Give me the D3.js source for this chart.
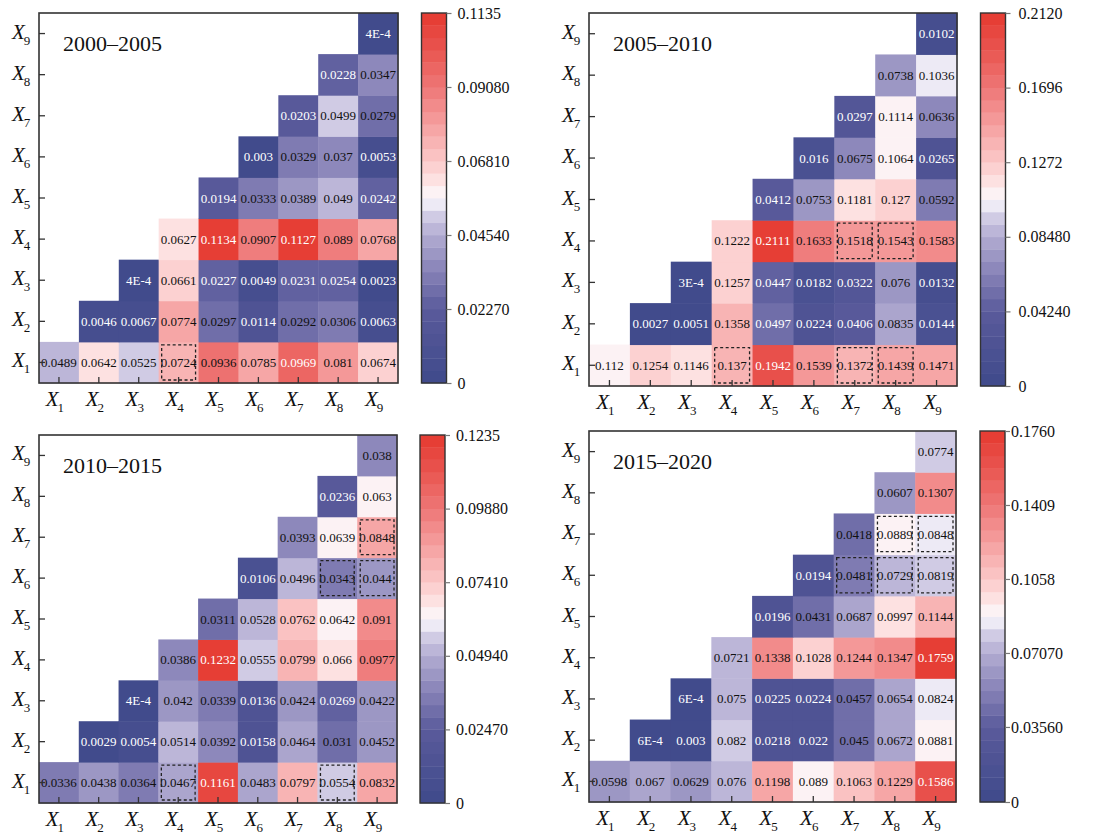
<!DOCTYPE html>
<html lang="en">
<head>
<meta charset="UTF-8">
<script src="https://d3js.org/d3.v7.min.js"></script>
<title>heatmaps</title>
<style>
  body { margin: 0; background: #fff; }
  svg { display: block; font-family: "Liberation Serif", "Times New Roman", serif; }
</style>
</head>
<body>
<svg id="chart" width="1104" height="835"></svg>
<script>
// upper-triangle values, row Xi starts at column Xi
const v2000 = [
  [0.0489, 0.0642, 0.0525, 0.0724, 0.0936, 0.0785, 0.0969, 0.081, 0.0674],
  [0.0046, 0.0067, 0.0774, 0.0297, 0.0114, 0.0292, 0.0306, 0.0063],
  [0.0004, 0.0661, 0.0227, 0.0049, 0.0231, 0.0254, 0.0023],
  [0.0627, 0.1134, 0.0907, 0.1127, 0.089, 0.0768],
  [0.0194, 0.0333, 0.0389, 0.049, 0.0242],
  [0.003, 0.0329, 0.037, 0.0053],
  [0.0203, 0.0499, 0.0279],
  [0.0228, 0.0347],
  [0.0004]
];
const v2005 = [
  [0.112, 0.1254, 0.1146, 0.137, 0.1942, 0.1539, 0.1372, 0.1439, 0.1471],
  [0.0027, 0.0051, 0.1358, 0.0497, 0.0224, 0.0406, 0.0835, 0.0144],
  [0.0003, 0.1257, 0.0447, 0.0182, 0.0322, 0.076, 0.0132],
  [0.1222, 0.2111, 0.1633, 0.1518, 0.1543, 0.1583],
  [0.0412, 0.0753, 0.1181, 0.127, 0.0592],
  [0.016, 0.0675, 0.1064, 0.0265],
  [0.0297, 0.1114, 0.0636],
  [0.0738, 0.1036],
  [0.0102]
];
const v2010 = [
  [0.0336, 0.0438, 0.0364, 0.0467, 0.1161, 0.0483, 0.0797, 0.0554, 0.0832],
  [0.0029, 0.0054, 0.0514, 0.0392, 0.0158, 0.0464, 0.031, 0.0452],
  [0.0004, 0.042, 0.0339, 0.0136, 0.0424, 0.0269, 0.0422],
  [0.0386, 0.1232, 0.0555, 0.0799, 0.066, 0.0977],
  [0.0311, 0.0528, 0.0762, 0.0642, 0.091],
  [0.0106, 0.0496, 0.0343, 0.044],
  [0.0393, 0.0639, 0.0848],
  [0.0236, 0.063],
  [0.038]
];
const v2015 = [
  [0.0598, 0.067, 0.0629, 0.076, 0.1198, 0.089, 0.1063, 0.1229, 0.1586],
  [0.0006, 0.003, 0.082, 0.0218, 0.022, 0.045, 0.0672, 0.0881],
  [0.0006, 0.075, 0.0225, 0.0224, 0.0457, 0.0654, 0.0824],
  [0.0721, 0.1338, 0.1028, 0.1244, 0.1347, 0.1759],
  [0.0196, 0.0431, 0.0687, 0.0997, 0.1144],
  [0.0194, 0.0481, 0.0729, 0.0819],
  [0.0418, 0.0889, 0.0848],
  [0.0607, 0.1307],
  [0.0774]
];

const titles = ["2000\u20132005", "2005\u20132010", "2010\u20132015", "2015\u20132020"];
const cbMax = [0.1135, 0.2120, 0.1235, 0.1760];
const cbTicks = [
  ["0", "0.02270", "0.04540", "0.06810", "0.09080", "0.1135"],
  ["0", "0.04240", "0.08480", "0.1272", "0.1696", "0.2120"],
  ["0", "0.02470", "0.04940", "0.07410", "0.09880", "0.1235"],
  ["0", "0.03560", "0.07070", "0.1058", "0.1409", "0.1760"]
];
// dashed cells as [row, col]
const dash2000 = [[1, 4]];
const dash2005 = [[1, 4], [1, 7], [1, 8], [4, 7], [4, 8]];
const dash2010 = [[1, 4], [1, 8], [6, 8], [6, 9], [7, 9]];
const dash2015 = [[6, 7], [6, 8], [6, 9], [7, 8], [7, 9]];

const allVals = [v2000, v2005, v2010, v2015];
const allDash = [dash2000, dash2005, dash2010, dash2015];

// layout for the four panels
const boxes = [
  {x0: 39, y0: 13, x1: 398, y1: 383, cx: 421.5, lab: 6},
  {x0: 589, y0: 13, x1: 957, y1: 386, cx: 980.5, lab: 8},
  {x0: 39, y0: 435, x1: 397, y1: 803, cx: 420, lab: 6},
  {x0: 589, y0: 431, x1: 956, y1: 802, cx: 980, lab: 1}
];
const cbW = 25;
const nBands = 30;

// blue - white - red ramp, sampled into discrete bands
const ramp = d3.scaleLinear()
  .domain([0, 0.2, 0.3, 0.4, 0.45, 0.5, 0.55, 0.6, 0.7, 0.8, 0.9, 1])
  .range(["#3f4a8b", "#5a5a9b", "#8681b6", "#b2acd2", "#d0cbe4", "#fbfafd",
          "#fde1e1", "#fbc9c9", "#f59f9f", "#ee7676", "#e95550", "#e5392f"])
  .interpolate(d3.interpolateRgb);
const bandColors = d3.range(nBands).map(i => ramp((i + 0.5) / nBands));

const svg = d3.select("#chart");
const idx = d3.range(1, 10);

function fmt(v) {
  if (v < 0.001) return Math.round(v * 1e4) + "E-4";
  return String(v);
}

function subLabel(sel, n) {
  sel.append("tspan").attr("font-style", "italic").attr("font-size", 21).text("X");
  sel.append("tspan").attr("font-size", 13).attr("dy", 6).attr("dx", -1).text(n);
}

allVals.forEach((vals, p) => {
  const b = boxes[p];
  const max = cbMax[p];
  const g = svg.append("g");

  const x = d3.scaleBand().domain(idx).range([b.x0, b.x1]);
  const y = d3.scaleBand().domain(idx).range([b.y1, b.y0]);
  const color = d3.scaleQuantize().domain([0, max]).range(bandColors);

  const cells = [];
  vals.forEach((row, r) => row.forEach((v, k) => cells.push({r: r + 1, c: r + 1 + k, v: v})));

  g.selectAll("rect.cell").data(cells).enter().append("rect")
    .attr("class", "cell")
    .attr("x", d => x(d.c))
    .attr("y", d => y(d.r))
    .attr("width", x.bandwidth() + 0.5)
    .attr("height", y.bandwidth() + 0.5)
    .attr("fill", d => color(d.v));

  g.selectAll("text.val").data(cells).enter().append("text")
    .attr("class", "val")
    .attr("x", d => x(d.c) + x.bandwidth() / 2)
    .attr("y", d => y(d.r) + y.bandwidth() / 2 + 4.5)
    .attr("text-anchor", "middle")
    .attr("font-size", 13)
    .attr("fill", d => { const t = d.v / max; return (t < 0.235 || t > 0.84) ? "#fff" : "#111"; })
    .text(d => fmt(d.v));

  // dashed boxes
  g.selectAll("rect.dash").data(allDash[p]).enter().append("rect")
    .attr("x", d => x(d[1]) + 3)
    .attr("y", d => y(d[0]) + 3)
    .attr("width", x.bandwidth() - 6)
    .attr("height", y.bandwidth() - 6)
    .attr("fill", "none")
    .attr("stroke", "#222")
    .attr("stroke-width", 1.3)
    .attr("stroke-dasharray", "3,2.5");

  // inward ticks
  const ax = g.append("g").attr("transform", `translate(0,${b.y1})`)
    .call(d3.axisTop(x).tickSize(6).tickFormat(""));
  const ay = g.append("g").attr("transform", `translate(${b.x0},0)`)
    .call(d3.axisRight(y).tickSize(6).tickFormat(""));
  [ax, ay].forEach(a => {
    a.select(".domain").remove();
    a.selectAll("line").attr("stroke", "#333").attr("stroke-width", 1.3);
  });

  g.append("rect")
    .attr("x", b.x0).attr("y", b.y0)
    .attr("width", b.x1 - b.x0).attr("height", b.y1 - b.y0)
    .attr("fill", "none").attr("stroke", "#333").attr("stroke-width", 1.6);

  // axis labels
  idx.forEach(n => {
    const tx = g.append("text")
      .attr("x", x(n) + x.bandwidth() / 2 - 4)
      .attr("y", b.y1 + 23)
      .attr("text-anchor", "middle")
      .attr("fill", "#111");
    subLabel(tx, n);
    const ty = g.append("text")
      .attr("x", b.x0 - 27)
      .attr("y", y(n) + y.bandwidth() / 2 + 5)
      .attr("fill", "#111");
    subLabel(ty, n);
  });

  g.append("text")
    .attr("x", b.x0 + 24)
    .attr("y", b.y0 + 38)
    .attr("font-size", 22)
    .attr("fill", "#111")
    .text(titles[p]);

  // colour bar
  const cy = d3.scaleLinear().domain([0, max]).range([b.y1, b.y0]);
  const bh = (b.y1 - b.y0) / nBands;
  g.selectAll("rect.band").data(bandColors).enter().append("rect")
    .attr("x", b.cx)
    .attr("y", (d, i) => cy(max * (i + 1) / nBands))
    .attr("width", cbW)
    .attr("height", bh + 0.4)
    .attr("fill", d => d);
  g.append("rect")
    .attr("x", b.cx).attr("y", b.y0)
    .attr("width", cbW).attr("height", b.y1 - b.y0)
    .attr("fill", "none").attr("stroke", "#333").attr("stroke-width", 1.4);

  const labs = cbTicks[p];
  const cax = g.append("g").attr("transform", `translate(${b.cx + cbW},0)`)
    .call(d3.axisRight(cy).tickValues(labs.map(Number)).tickSize(5).tickPadding(b.lab)
      .tickFormat((d, i) => labs[i]));
  cax.select(".domain").remove();
  cax.selectAll("line").attr("stroke", "#777").attr("stroke-width", 1.2);
  cax.selectAll("text").attr("font-size", 16).attr("fill", "#111")
    .attr("font-family", "Liberation Serif, serif");
});
</script>
</body>
</html>
